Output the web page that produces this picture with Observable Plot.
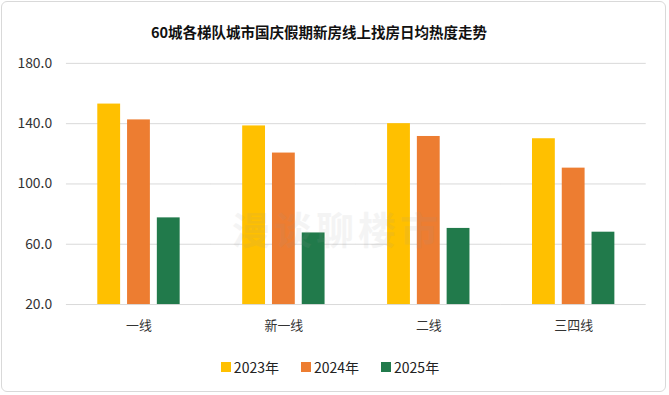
<!DOCTYPE html>
<html>
<head>
<meta charset="utf-8">
<script src="https://cdn.jsdelivr.net/npm/d3@7"></script>
<script src="https://cdn.jsdelivr.net/npm/@observablehq/plot@0.6"></script>
<style>
  html, body { margin: 0; padding: 0; background: #fff; }
  #frame {
    position: relative; width: 665px; height: 391px; margin: 1px;
    border: 1px solid #d9d9d9; border-radius: 6px; box-sizing: border-box; overflow: hidden;
    font-family: "Noto Sans CJK SC", "Noto Sans", sans-serif;
  }
  #title { position: absolute; left: 0; top: 19px; width: 634px; text-align: center;
    font-size: 14.5px; font-weight: bold; color: #111; }
  #chart { position: absolute; left: -1px; top: 44px; }
  #legend { position: absolute; left: 0; top: 355px; width: 656px; display: flex; justify-content: center; gap: 22px;
    font-size: 14px; color: #222; }
  #legend span.item { display: flex; align-items: center; }
  #legend span.sw { display: inline-block; width: 10px; height: 10px; margin-right: 3px; }
  #wm { position: absolute; left: 230px; top: 198px; font-size: 38px; font-weight: bold; color: #999; opacity: 0.1; letter-spacing: 4px; }
</style>
</head>
<body>
<div id="frame">
  <div id="title">60城各梯队城市国庆假期新房线上找房日均热度走势</div>
  <div id="chart"></div>
  <div id="wm">漫谈聊楼市</div>
  <div id="legend"></div>
</div>
<script>
const categories = ["一线", "新一线", "二线", "三四线"];
const years = ["2023年", "2024年", "2025年"];
const values2023 = [153, 138.5, 140, 130];
const values2024 = [142.5, 120.5, 131.5, 110.5];
const values2025 = [77.5, 67.5, 70.5, 68];
const colors = ["#FFC000", "#ED7D31", "#217A4B"];
const yTicks = [20, 60, 100, 140, 180];

const series = [values2023, values2024, values2025];
const data = [];
categories.forEach((c, i) => {
  years.forEach((y, j) => data.push({cat: c, year: y, value: series[j][i]}));
});

const chart = Plot.plot({
  width: 669,
  height: 297,
  marginLeft: 66,
  marginRight: 19,
  marginTop: 17,
  marginBottom: 37,
  style: {fontFamily: "Noto Sans CJK SC, sans-serif", fontSize: "14px", color: "#333", background: "transparent"},
  fx: {domain: categories, paddingInner: 0.1, paddingOuter: 0.05, label: null},
  x: {domain: years, paddingInner: 0.23, paddingOuter: 0.74, axis: null},
  y: {domain: [20, 180], ticks: yTicks, label: null},
  color: {domain: years, range: colors},
  marks: [
    Plot.ruleY(yTicks, {stroke: "#d9d9d9", strokeWidth: 1, strokeOpacity: 1, insetLeft: -7.6, insetRight: -7.6}),
    Plot.barY(data, {fx: "cat", x: "year", y1: 20, y2: "value", fill: "year"}),
    Plot.axisY({ticks: yTicks, tickFormat: d3.format(".1f"), tickSize: 0, tickPadding: 22, fontSize: 14, fill: "#333"}),
    Plot.axisFx({anchor: "bottom", tickSize: 0, tickPadding: 16, fontSize: 13, fill: "#333", label: null})
  ]
});
document.getElementById("chart").appendChild(chart);

const legend = document.getElementById("legend");
years.forEach((y, i) => {
  const it = document.createElement("span");
  it.className = "item";
  const sw = document.createElement("span");
  sw.className = "sw";
  sw.style.background = colors[i];
  it.appendChild(sw);
  it.appendChild(document.createTextNode(y));
  legend.appendChild(it);
});
</script>
</body>
</html>
